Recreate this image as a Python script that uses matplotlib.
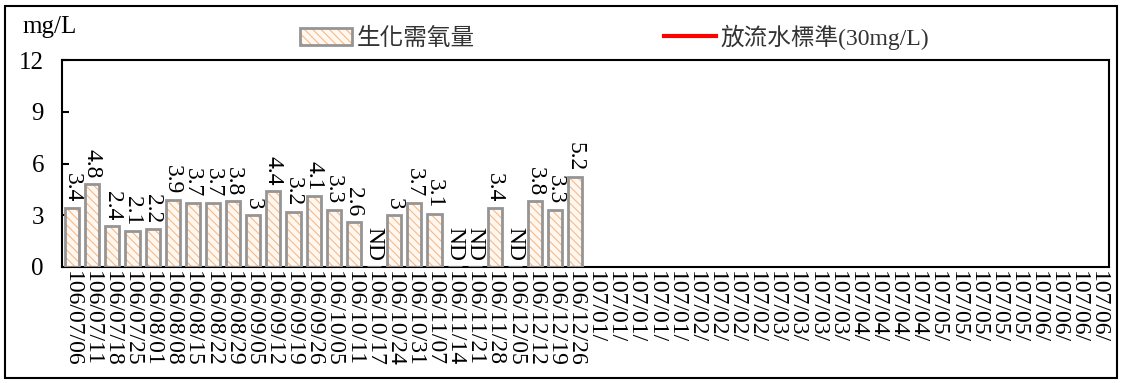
"""BOD weekly readings vs discharge standard."""

import matplotlib
matplotlib.use("Agg")
import matplotlib.pyplot as plt
from matplotlib.patches import Rectangle
import numpy as np

plt.rcParams["hatch.linewidth"] = 0.8
plt.rcParams["hatch.color"] = "#F7B985"

SERIF = ["Liberation Serif", "DejaVu Serif"]
MIXED = ["Liberation Serif", "Noto Sans CJK TC", "DejaVu Sans"]

# ── Data ──
dates_106 = [
    "106/07/06", "106/07/11", "106/07/18", "106/07/25", "106/08/01",
    "106/08/08", "106/08/15", "106/08/22", "106/08/29", "106/09/05",
    "106/09/12", "106/09/19", "106/09/26", "106/10/05", "106/10/11",
    "106/10/17", "106/10/24", "106/10/31", "106/11/07", "106/11/14",
    "106/11/21", "106/11/28", "106/12/05", "106/12/12", "106/12/19",
    "106/12/26",
]
dates_107 = (["107/01/"] * 5 + ["107/02/"] * 4 + ["107/03/"] * 4
             + ["107/04/"] * 4 + ["107/05/"] * 5 + ["107/06/"] * 4)
bod = [3.4, 4.8, 2.4, 2.1, 2.2, 3.9, 3.7, 3.7, 3.8, 3.0,
       4.4, 3.2, 4.1, 3.3, 2.6, None, 3.0, 3.7, 3.1, None,
       None, 3.4, None, 3.8, 3.3, 5.2]
standard = 30

labels = dates_106 + dates_107
x = np.arange(len(labels))
values = [v if v is not None else 0 for v in bod]

fig = plt.figure(figsize=(11.23, 3.83), dpi=100)
ax = fig.add_axes([0.0552, 0.3029, 0.9323, 0.5404])

# hatch drawn without edge (uses hatch.color), outline drawn on top
hatched = ax.bar(x[:len(bod)], values, width=0.7, facecolor="#FFF7F0",
                 edgecolor=None, hatch="\\\\\\\\", zorder=2)
outline = ax.bar(x[:len(bod)], values, width=0.7, fill=False,
                 edgecolor="#959595", linewidth=2, zorder=3)
std_line, = ax.plot(x, [standard] * len(x), color="red", linewidth=3)

# ── Value labels ──
for xi, v in zip(x, bod):
    txt = "ND" if v is None else f"{v:g}"
    y = 0 if v is None else v
    ax.annotate(txt, (xi, y), xytext=(0, 4), textcoords="offset points",
                rotation=-90, ha="center", va="bottom",
                fontsize=17, family=SERIF, zorder=4)

ax.set_xlim(-0.5, len(labels) - 0.5)
ax.set_ylim(0, 12)
ax.set_yticks([0, 3, 6, 9, 12])
ax.set_xticks(x)
ax.set_xticklabels(labels, rotation=-90, fontsize=17, family=SERIF,
                   va="top", ha="center")
for t in ax.get_yticklabels():
    t.set_family(SERIF)
    t.set_fontsize(18)
ax.tick_params(axis="x", length=0, pad=3)
ax.tick_params(axis="y", direction="in", length=5, width=1.5, pad=13)
for s in ax.spines.values():
    s.set_linewidth(1.5)
    s.set_color("black")

fig.text(22 / 1123, 1 - 27 / 383, "mg/L", fontsize=18, family=SERIF,
         ha="left", va="center")

leg = fig.legend([(hatched, outline), std_line],
                 ["生化需氧量", "放流水標準(30mg/L)"],
                 loc="center left", bbox_to_anchor=(300 / 1123, 1 - 37 / 383),
                 ncol=2, frameon=False, borderpad=0, borderaxespad=0,
                 handlelength=2.2, handletextpad=0.2, columnspacing=8,
                 prop={"family": MIXED, "size": 17})
for t in leg.get_texts():
    t.set_color("#333333")

fig.patches.append(Rectangle((5 / 1123, 5 / 383), 1112 / 1123, 372 / 383,
                             transform=fig.transFigure, fill=False,
                             edgecolor="black", linewidth=1.5))

fig.savefig("out.png", dpi=100)
